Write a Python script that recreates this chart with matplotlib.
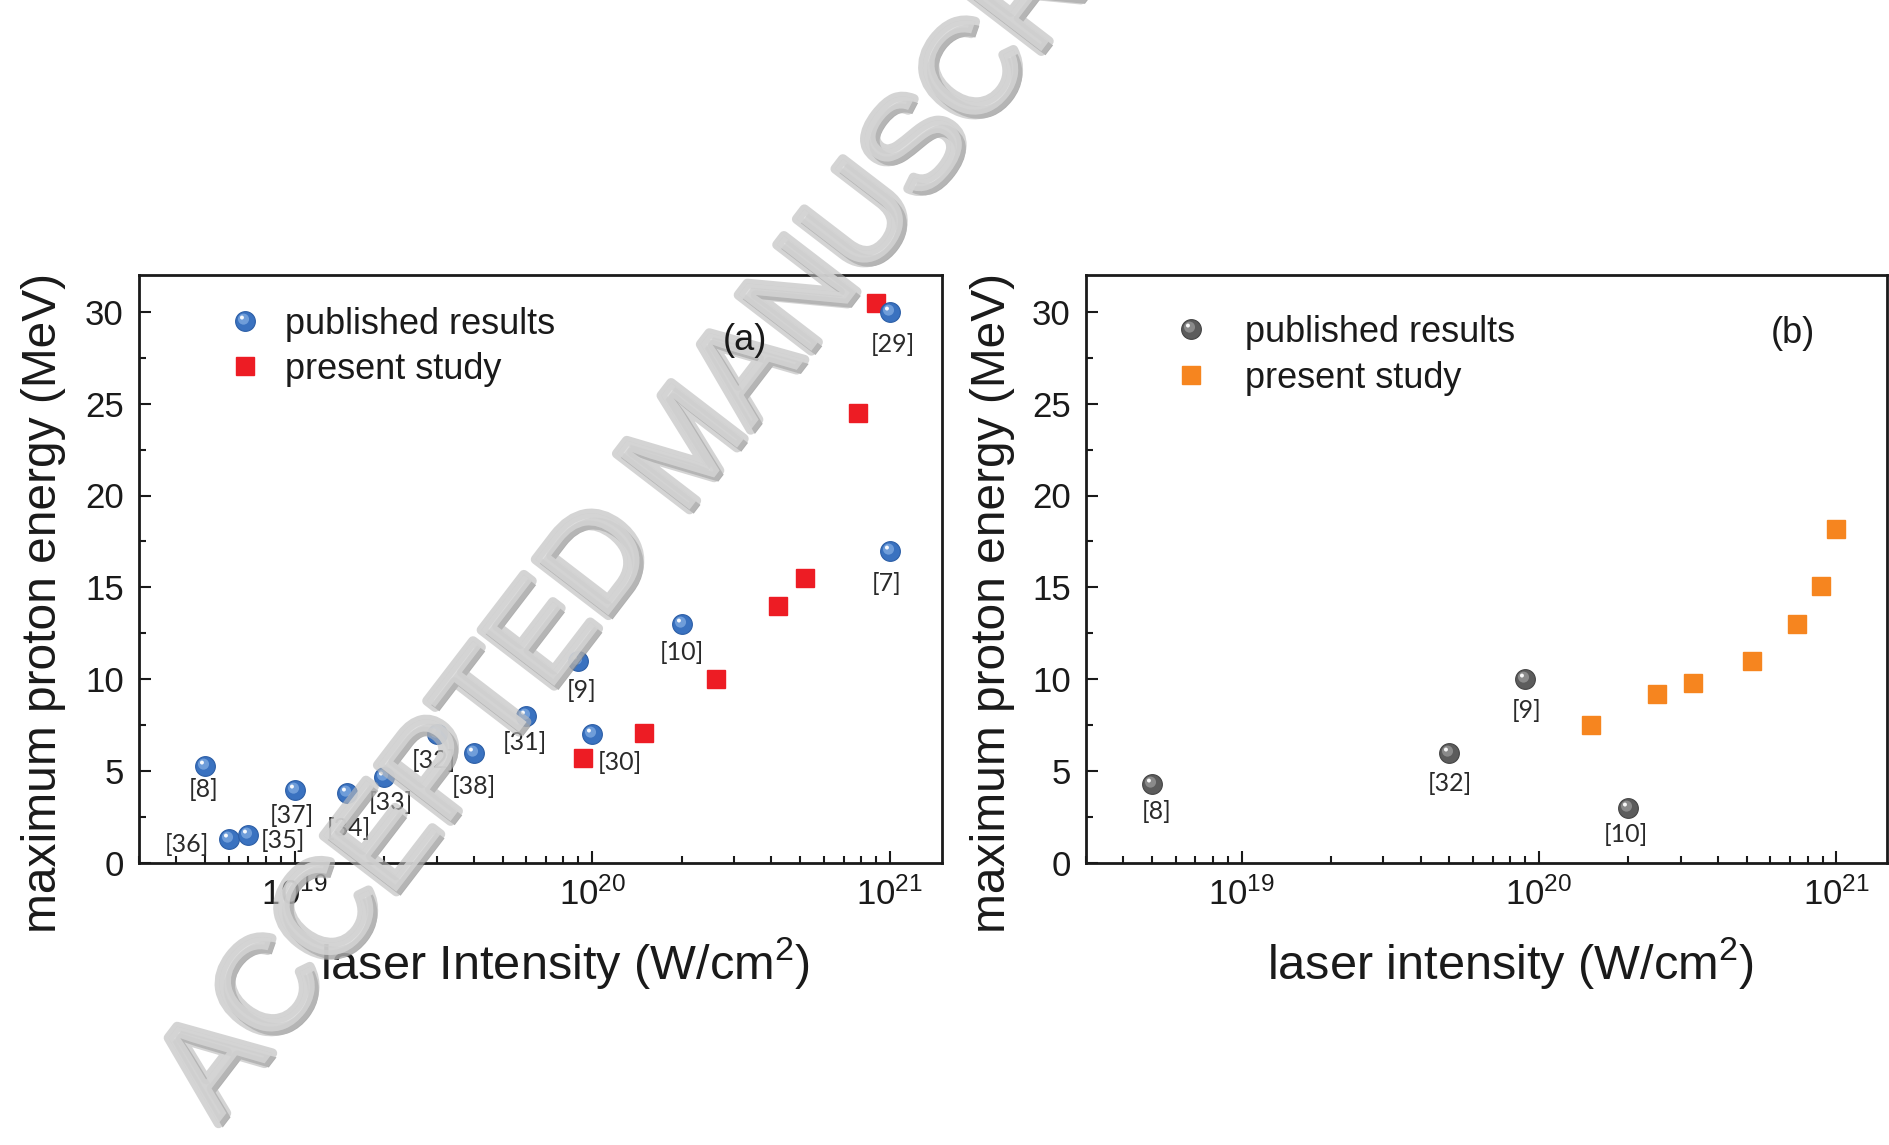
import matplotlib
matplotlib.use("Agg")
import matplotlib.pyplot as plt
from matplotlib.path import Path
from matplotlib.legend_handler import HandlerTuple
from matplotlib.ticker import LogLocator, NullFormatter, MultipleLocator
import matplotlib.patheffects as pe

# ---------------- data ----------------
# panel (a)
pub_a_x = [5.0e18, 6.0e18, 7.0e18, 1.0e19, 1.5e19, 2.0e19, 3.0e19, 4.0e19,
           6.0e19, 9.0e19, 1.0e20, 2.0e20, 1.0e21, 1.0e21]
pub_a_y = [5.3, 1.3, 1.5, 4.0, 3.8, 4.7, 7.0, 6.0, 8.0, 11.0, 7.0, 13.0, 30.0, 17.0]
pub_a_ref = ["[8]", "[36]", "[35]", "[37]", "[34]", "[33]", "[32]", "[38]",
             "[31]", "[9]", "[30]", "[10]", "[29]", "[7]"]
pres_a_x = [9.3e19, 1.5e20, 2.6e20, 4.2e20, 5.2e20, 7.8e20, 9.0e20]
pres_a_y = [5.7, 7.1, 10.0, 14.0, 15.5, 24.5, 30.5]

# panel (b)
pub_b_x = [5.0e18, 5.0e19, 9.0e19, 2.0e20]
pub_b_y = [4.3, 6.0, 10.0, 3.0]
pub_b_ref = ["[8]", "[32]", "[9]", "[10]"]
pres_b_x = [1.5e20, 2.5e20, 3.3e20, 5.2e20, 7.4e20, 8.85e20, 1.0e21]
pres_b_y = [7.5, 9.2, 9.8, 11.0, 13.0, 15.1, 18.2]

# label offsets (points) for reference tags
off_a = [(-1, -17.5), (-30, -4), (25, -4), (-2, -18.5), (1.5, -25.5), (4.5, -18.5),
         (-2, -18.5), (0, -24), (-1, -19), (2, -21), (20, -20.5), (0, -20.5),
         (2, -23.5), (-2, -23.5)]
off_b = [(3, -20), (0, -22), (1, -22.5), (-2, -19.5)]

# ---------------- style ----------------
plt.rcParams['font.family'] = ['Liberation Sans', 'DejaVu Sans']
plt.rcParams['mathtext.fontset'] = 'custom'
plt.rcParams['mathtext.rm'] = 'Liberation Sans'
plt.rcParams['mathtext.it'] = 'Liberation Sans'
plt.rcParams['mathtext.bf'] = 'Liberation Sans'

fig = plt.figure(figsize=(18.9, 11.45), dpi=100)

ax_a = fig.add_axes([139 / 1890, 282 / 1145, 803 / 1890, 588 / 1145])
ax_b = fig.add_axes([1086 / 1890, 282 / 1145, 801 / 1890, 588 / 1145])

MS = 14.2
hl_path = Path.circle(center=(-0.3, 0.333), radius=0.167)
glow_path = Path.circle(center=(-0.125, 0.15), radius=0.35)


def sphere(ax, x, y, base, edge, glow):
    h1, = ax.plot(x, y, 'o', ms=MS, mfc=base, mec=edge, mew=0.8, ls='none', zorder=4)
    h2, = ax.plot(x, y, marker=glow_path, ms=MS * 0.8, mfc=glow, mec='none',
                  alpha=0.55, ls='none', zorder=5)
    h3, = ax.plot(x, y, marker=hl_path, ms=MS * 0.6, mfc='white', mec='none',
                  alpha=0.95, ls='none', zorder=6)
    return (h1, h2, h3)


def style_axes(ax, xlab):
    ax.set_xscale('log')
    ax.set_xlim(3.0e18, 1.5e21)
    ax.set_ylim(0, 32)
    ax.yaxis.set_major_locator(MultipleLocator(5))
    ax.yaxis.set_minor_locator(MultipleLocator(2.5))
    ax.xaxis.set_major_locator(LogLocator(base=10, numticks=20))
    ax.xaxis.set_minor_locator(LogLocator(base=10, subs=range(2, 10), numticks=20))
    ax.xaxis.set_minor_formatter(NullFormatter())
    ax.tick_params(which='both', direction='in', top=False, right=False,
                   labelsize=25, width=1.5, colors='#1a1a1a')
    ax.tick_params(which='major', length=8.5)
    ax.tick_params(which='minor', length=5)
    ax.tick_params(axis='y', pad=11)
    ax.tick_params(axis='x', pad=10)
    for s in ax.spines.values():
        s.set_linewidth(2.0)
        s.set_color('#1a1a1a')
    ax.set_ylabel('maximum proton energy (MeV)', fontsize=34.5, color='#1a1a1a')
    ax.set_xlabel(xlab, fontsize=35, color='#1a1a1a')
    ax.xaxis.label.set_va('baseline')


# ---- panel a ----
sq_a, = ax_a.plot(pres_a_x, pres_a_y, 's', ms=13, mfc='#ed1c24', mec='#ed1c24',
                  ls='none', zorder=3)
sp_a = sphere(ax_a, pub_a_x, pub_a_y, '#3a72c0', '#2c5ea6', '#9cc2ee')
for x, y, t, (dx, dy) in zip(pub_a_x, pub_a_y, pub_a_ref, off_a):
    ax_a.annotate(t, (x, y), xytext=(dx, dy), textcoords='offset points',
                  ha='center', va='center', fontsize=18, family='Lato',
                  color='#2a2a2a', zorder=7)
style_axes(ax_a, 'laser Intensity (W/cm$^{2}$)')
ax_a.legend([sp_a, sq_a], ['published results', 'present study'],
            handler_map={tuple: HandlerTuple(ndivide=1, pad=0)},
            loc='upper left', bbox_to_anchor=(0.1095, 0.946), frameon=False,
            fontsize=26, handlelength=1.0, handletextpad=0.6, labelspacing=0.28,
            borderaxespad=0, borderpad=0, labelcolor='#1a1a1a')
# panel tag drawn at figure level so that it sits above the watermark
fig.text(0.754, 0.888, '(a)', transform=ax_a.transAxes, fontsize=26,
         ha='center', va='center', color='#1a1a1a', zorder=30)

# ---- panel b ----
sq_b, = ax_b.plot(pres_b_x, pres_b_y, 's', ms=12.7, mfc='#f6851f', mec='#f6851f',
                  ls='none', zorder=3)
sp_b = sphere(ax_b, pub_b_x, pub_b_y, '#5c5c5c', '#444444', '#b0b0b0')
for x, y, t, (dx, dy) in zip(pub_b_x, pub_b_y, pub_b_ref, off_b):
    ax_b.annotate(t, (x, y), xytext=(dx, dy), textcoords='offset points',
                  ha='center', va='center', fontsize=18, family='Lato',
                  color='#2a2a2a', zorder=7)
style_axes(ax_b, 'laser intensity (W/cm$^{2}$)')
ax_b.set_xlim(3.0e18, 1.48e21)
ax_b.legend([sp_b, sq_b], ['published results', 'present study'],
            handler_map={tuple: HandlerTuple(ndivide=1, pad=0)},
            loc='upper left', bbox_to_anchor=(0.1086, 0.932), frameon=False,
            fontsize=26, handlelength=1.0, handletextpad=1.0, labelspacing=0.30,
            borderaxespad=0, borderpad=0, labelcolor='#1a1a1a')
ax_b.text(0.883, 0.901, '(b)', transform=ax_b.transAxes, fontsize=26,
          ha='center', va='center', color='#1a1a1a')

for ax in (ax_a, ax_b):
    ax.xaxis.set_label_coords(0.53, -0.197)
ax_a.yaxis.set_label_coords(-0.091, 0.442)
ax_b.yaxis.set_label_coords(-0.089, 0.442)

# ---- watermark ----
fig.text(0.366, 0.607, 'ACCEPTED MANUSCRIPT', fontsize=96, rotation=52.5,
         rotation_mode='anchor', ha='center', va='center', color='#dadada',
         alpha=0.62, zorder=20,
         path_effects=[pe.SimplePatchShadow(offset=(3, -3), shadow_rgbFace='#7a7a7a', alpha=0.6),
                       pe.Stroke(linewidth=7, foreground='#bababa'),
                       pe.Normal()])

fig.savefig('out.png', dpi=100)
